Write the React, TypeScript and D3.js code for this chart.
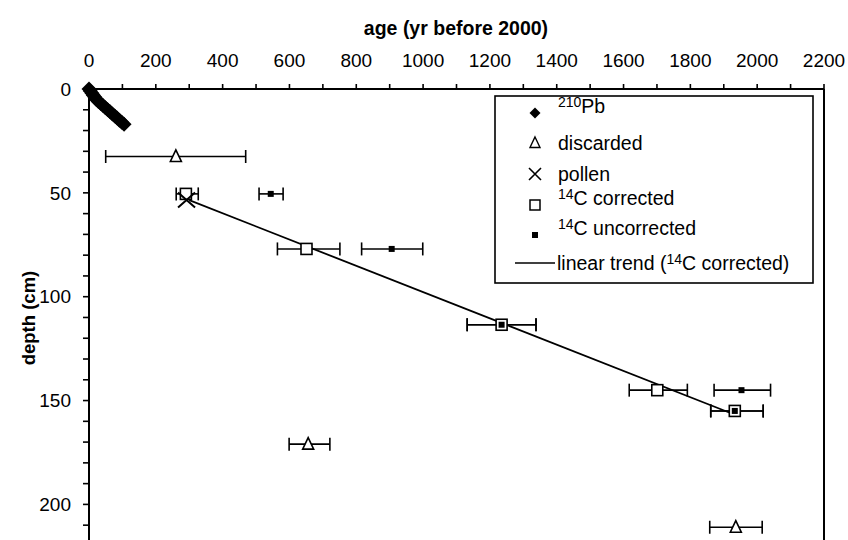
import React from "react";
import * as d3 from "d3";

// ---- data ----
const pbDepths = [0, 1, 2, 3, 4, 5, 6, 7, 8, 9, 10, 11, 12, 13, 14, 15, 16, 17];
const pbAges = [0, 4, 9, 13, 18, 22, 28, 35, 42, 49, 56, 63, 70, 77, 84, 91, 98, 105];

const discAges = [260, 656, 1936];
const discDepths = [32.5, 171, 211];
const discLo = [50, 599, 1858];
const discHi = [469, 721, 2015];

const pollenAges = [292];
const pollenDepths = [53.5];

const corrAges = [290, 651, 1235, 1701, 1933];
const corrDepths = [50.5, 77, 113.5, 145, 155];
const corrLo = [261, 564, 1132, 1617, 1861];
const corrHi = [327, 751, 1338, 1791, 2018];

const uncAges = [544, 906, 1235, 1953, 1933];
const uncDepths = [50.5, 77, 113.5, 145, 155];
const uncLo = [509, 816, 1132, 1871, 1861];
const uncHi = [581, 999, 1338, 2040, 2018];

const trendAges = [300, 1920];
const trendDepths = [53.5, 156];

const xTicks = [0, 200, 400, 600, 800, 1000, 1200, 1400, 1600, 1800, 2000, 2200];
const yTicks = [0, 50, 100, 150, 200];

const W = 848;
const H = 540;
const FONT = "'Liberation Sans', Arial, sans-serif";

export default function App() {
  const x = d3.scaleLinear().domain([0, 2200]).range([89, 824]);
  const y = d3.scaleLinear().domain([0, 220]).range([89, 89 + 220 * 2.077]);

  const xMinor = d3.range(0, 2201, 100);
  const yMinor = d3.range(0, 221, 10);

  const line = d3
    .line<number>()
    .x((_, i) => x(trendAges[i]))
    .y((_, i) => y(trendDepths[i]));

  const diamond = (cx: number, cy: number, r: number) =>
    `M${cx},${cy - r}L${cx + r},${cy}L${cx},${cy + r}L${cx - r},${cy}Z`;
  const tri = (cx: number, cy: number, s: number) =>
    `M${cx},${cy - s * 0.6}L${cx + s / 2},${cy + s * 0.45}L${cx - s / 2},${cy + s * 0.45}Z`;
  const xMark = (cx: number, cy: number, w: number, h: number) =>
    `M${cx - w / 2},${cy - h / 2}L${cx + w / 2},${cy + h / 2}M${cx + w / 2},${cy - h / 2}L${cx - w / 2},${cy + h / 2}`;

  const errBar = (lo: number, hi: number, d: number, key: string) => {
    const yy = y(d);
    return (
      <g key={key} stroke="#000" strokeWidth={1.6}>
        <line x1={x(lo)} x2={x(hi)} y1={yy} y2={yy} />
        <line x1={x(lo)} x2={x(lo)} y1={yy - 6.5} y2={yy + 6.5} />
        <line x1={x(hi)} x2={x(hi)} y1={yy - 6.5} y2={yy + 6.5} />
      </g>
    );
  };

  const legendY = [113, 143, 174, 205, 235, 263];
  const lgSymX = 535;
  const lgTxtX = 558;

  return (
    <svg
      width={W}
      height={H}
      style={{ position: "absolute", left: 0, top: 0, background: "#fff" }}
      fontFamily={FONT}
    >
      <rect x={0} y={0} width={W} height={H} fill="#fff" />

      {/* titles */}
      <text x={456} y={35} textAnchor="middle" fontSize={19.5} fontWeight="bold">
        age (yr before 2000)
      </text>
      <text
        transform="translate(35,318) rotate(-90)"
        textAnchor="middle"
        fontSize={18.5}
        fontWeight="bold"
      >
        depth (cm)
      </text>

      {/* top axis */}
      <line x1={x(0)} x2={x(2200)} y1={y(0)} y2={y(0)} stroke="#000" strokeWidth={2} />
      {xMinor.map((t) => (
        <line key={"xt" + t} x1={x(t)} x2={x(t)} y1={y(0)} y2={y(0) - 5} stroke="#000" strokeWidth={1.6} />
      ))}
      {xTicks.map((t) => (
        <text key={"xl" + t} x={x(t)} y={67} textAnchor="middle" fontSize={19}>
          {t}
        </text>
      ))}

      {/* left axis */}
      <line x1={x(0)} x2={x(0)} y1={y(0)} y2={H} stroke="#000" strokeWidth={2} />
      {yMinor.map((t) => (
        <line key={"yt" + t} x1={x(0) - 6} x2={x(0)} y1={y(t)} y2={y(t)} stroke="#000" strokeWidth={1.6} />
      ))}
      {yTicks.map((t) => (
        <text key={"yl" + t} x={71} y={y(t)} dy="0.35em" textAnchor="end" fontSize={19}>
          {t}
        </text>
      ))}

      {/* right border */}
      <line x1={x(2200)} x2={x(2200)} y1={y(0)} y2={H} stroke="#000" strokeWidth={2} />

      {/* error bars */}
      {discAges.map((_, i) => errBar(discLo[i], discHi[i], discDepths[i], "de" + i))}
      {corrAges.map((_, i) => errBar(corrLo[i], corrHi[i], corrDepths[i], "ce" + i))}
      {uncAges.map((_, i) => errBar(uncLo[i], uncHi[i], uncDepths[i], "ue" + i))}

      {/* trend line */}
      <path d={line(trendAges) || ""} fill="none" stroke="#000" strokeWidth={1.8} />

      {/* Pb-210 */}
      {pbAges.map((a, i) => (
        <path key={"pb" + i} d={diamond(x(a), y(pbDepths[i]), 7.5)} fill="#000" />
      ))}

      {/* discarded */}
      {discAges.map((a, i) => (
        <path key={"d" + i} d={tri(x(a), y(discDepths[i]), 11)} fill="#fff" stroke="#000" strokeWidth={1.6} />
      ))}

      {/* corrected */}
      {corrAges.map((a, i) => (
        <rect
          key={"c" + i}
          x={x(a) - 5.5}
          y={y(corrDepths[i]) - 5.5}
          width={11}
          height={11}
          fill="#fff"
          stroke="#000"
          strokeWidth={1.6}
        />
      ))}

      {/* uncorrected */}
      {uncAges.map((a, i) => (
        <rect key={"u" + i} x={x(a) - 3} y={y(uncDepths[i]) - 3} width={6} height={6} fill="#000" />
      ))}

      {/* pollen */}
      {pollenAges.map((a, i) => (
        <path key={"p" + i} d={xMark(x(a), y(pollenDepths[i]), 17, 15)} stroke="#000" strokeWidth={2} fill="none" />
      ))}

      {/* legend */}
      <rect x={495} y={96} width={318} height={187} fill="#fff" stroke="#000" strokeWidth={1.6} />
      <path d={diamond(lgSymX, legendY[0], 5.5)} fill="#000" />
      <path d={tri(lgSymX, legendY[1], 10)} fill="#fff" stroke="#000" strokeWidth={1.4} />
      <path d={xMark(lgSymX, legendY[2], 12, 12)} stroke="#000" strokeWidth={1.6} fill="none" />
      <rect x={lgSymX - 5} y={legendY[3] - 5} width={10} height={10} fill="#fff" stroke="#000" strokeWidth={1.5} />
      <rect x={lgSymX - 3} y={legendY[4] - 3} width={6} height={6} fill="#000" />
      <line x1={515} x2={555} y1={legendY[5]} y2={legendY[5]} stroke="#000" strokeWidth={1.6} />

      <g fontSize={19.5}>
        <text x={lgTxtX} y={legendY[0]} dy="0.35em">
          <tspan fontSize={14} dy="-0.4em">210</tspan>
          <tspan dy="0.28em">Pb</tspan>
        </text>
        <text x={lgTxtX} y={legendY[1]} dy="0.35em">discarded</text>
        <text x={lgTxtX} y={legendY[2]} dy="0.35em">pollen</text>
        <text x={lgTxtX} y={legendY[3]} dy="0.35em">
          <tspan fontSize={14} dy="-0.4em">14</tspan>
          <tspan dy="0.28em">C corrected</tspan>
        </text>
        <text x={lgTxtX} y={legendY[4]} dy="0.35em">
          <tspan fontSize={14} dy="-0.4em">14</tspan>
          <tspan dy="0.28em">C uncorrected</tspan>
        </text>
        <text x={557} y={legendY[5]} dy="0.35em">
          linear trend (<tspan fontSize={14} dy="-0.4em">14</tspan>
          <tspan dy="0.28em">C corrected)</tspan>
        </text>
      </g>
    </svg>
  );
}
